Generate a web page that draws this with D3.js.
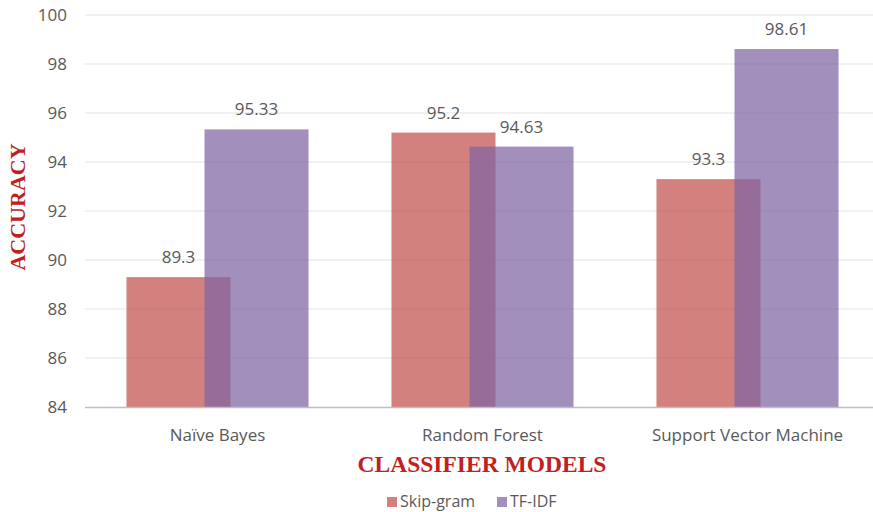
<!DOCTYPE html>
<html>
<head>
<meta charset="utf-8">
<script src="https://cdn.jsdelivr.net/npm/d3@7"></script>
<style>
  html, body { margin: 0; padding: 0; background: #fff; }
  svg { display: block; }
</style>
</head>
<body>
<svg id="chart" width="873" height="512"></svg>
<script>
// Accuracy of each classifier for two text representations
const categories = ["Naïve Bayes", "Random Forest", "Support Vector Machine"];
const seriesNames = ["Skip-gram", "TF-IDF"];
const skipGram = [89.3, 95.2, 93.3];
const tfIdf = [95.33, 94.63, 98.61];
const yTicks = [84, 86, 88, 90, 92, 94, 96, 98, 100];

const seriesValues = [skipGram, tfIdf];
const colors = ["#C0504D", "#8064A2"];

const svg = d3.select("#chart");
const font = "'Open Sans', sans-serif";
const textGray = "#595959";

const x = d3.scaleBand().domain(categories).range([85, 880]).padding(0);
const y = d3.scaleLinear().domain([84, 100]).range([407, 15]);

// grouped bars overlap by a quarter of a bar width
const groupW = x.bandwidth() * 0.687;
const barW = groupW / 1.75;
const step = barW * 0.75;
const barX = (cat, i) => x(cat) + (x.bandwidth() - groupW) / 2 + i * step;

// gridlines
svg.append("g")
  .selectAll("line")
  .data(yTicks.slice(1))
  .join("line")
  .attr("x1", 85).attr("x2", 873)
  .attr("y1", d => y(d)).attr("y2", d => y(d))
  .attr("stroke", "#e3e3e3").attr("stroke-width", 1);

// y axis labels
const yAxis = d3.axisLeft(y).tickValues(yTicks).tickSize(0).tickPadding(0);
const yg = svg.append("g").attr("transform", "translate(67,0)").call(yAxis);
yg.select(".domain").remove();
yg.selectAll("text")
  .attr("font-family", font).attr("font-size", 17).attr("fill", textGray);

// bars
seriesValues.forEach((vals, i) => {
  svg.append("g")
    .selectAll("rect")
    .data(categories.map((c, j) => ({ c, v: vals[j] })))
    .join("rect")
    .attr("x", d => barX(d.c, i))
    .attr("width", barW)
    .attr("y", d => y(d.v))
    .attr("height", d => y(84) - y(d.v))
    .attr("fill", colors[i])
    .attr("fill-opacity", 0.72);
});

// value labels
seriesValues.forEach((vals, i) => {
  svg.append("g")
    .selectAll("text")
    .data(categories.map((c, j) => ({ c, v: vals[j] })))
    .join("text")
    .attr("x", d => barX(d.c, i) + barW / 2)
    .attr("y", d => y(d.v) - 14)
    .attr("text-anchor", "middle")
    .attr("font-family", font).attr("font-size", 17).attr("fill", textGray)
    .text(d => d.v);
});

// x axis baseline and category labels
const xAxis = d3.axisBottom(x).tickSize(0).tickPadding(0);
const xg = svg.append("g").attr("transform", `translate(0,${y(84)})`).call(xAxis);
xg.select(".domain").remove();
xg.selectAll("text")
  .attr("font-family", font).attr("font-size", 17).attr("fill", textGray)
  .attr("dy", null).attr("y", 34);
svg.append("line")
  .attr("x1", 85).attr("x2", 873)
  .attr("y1", y(84) + 0.5).attr("y2", y(84) + 0.5)
  .attr("stroke", "#bfbfbf").attr("stroke-width", 1.5);

// axis titles
const titleColor = "#c0211f";
svg.append("text")
  .attr("transform", "translate(25,207) rotate(-90)")
  .attr("text-anchor", "middle")
  .attr("font-family", "'Liberation Serif', 'Times New Roman', serif")
  .attr("font-weight", "bold").attr("font-size", 22).attr("fill", titleColor)
  .text("ACCURACY");
svg.append("text")
  .attr("x", 482).attr("y", 472)
  .attr("text-anchor", "middle")
  .attr("font-family", "'Liberation Serif', 'Times New Roman', serif")
  .attr("font-weight", "bold").attr("font-size", 23.5).attr("fill", titleColor)
  .text("CLASSIFIER MODELS");

// legend
const legendX = [387, 497];
const lg = svg.append("g");
seriesNames.forEach((name, i) => {
  lg.append("rect")
    .attr("x", legendX[i]).attr("y", 497)
    .attr("width", 10).attr("height", 10)
    .attr("fill", colors[i]).attr("fill-opacity", 0.72);
  lg.append("text")
    .attr("x", legendX[i] + 13).attr("y", 507)
    .attr("font-family", font).attr("font-size", 16).attr("fill", textGray)
    .text(name);
});
</script>
</body>
</html>
